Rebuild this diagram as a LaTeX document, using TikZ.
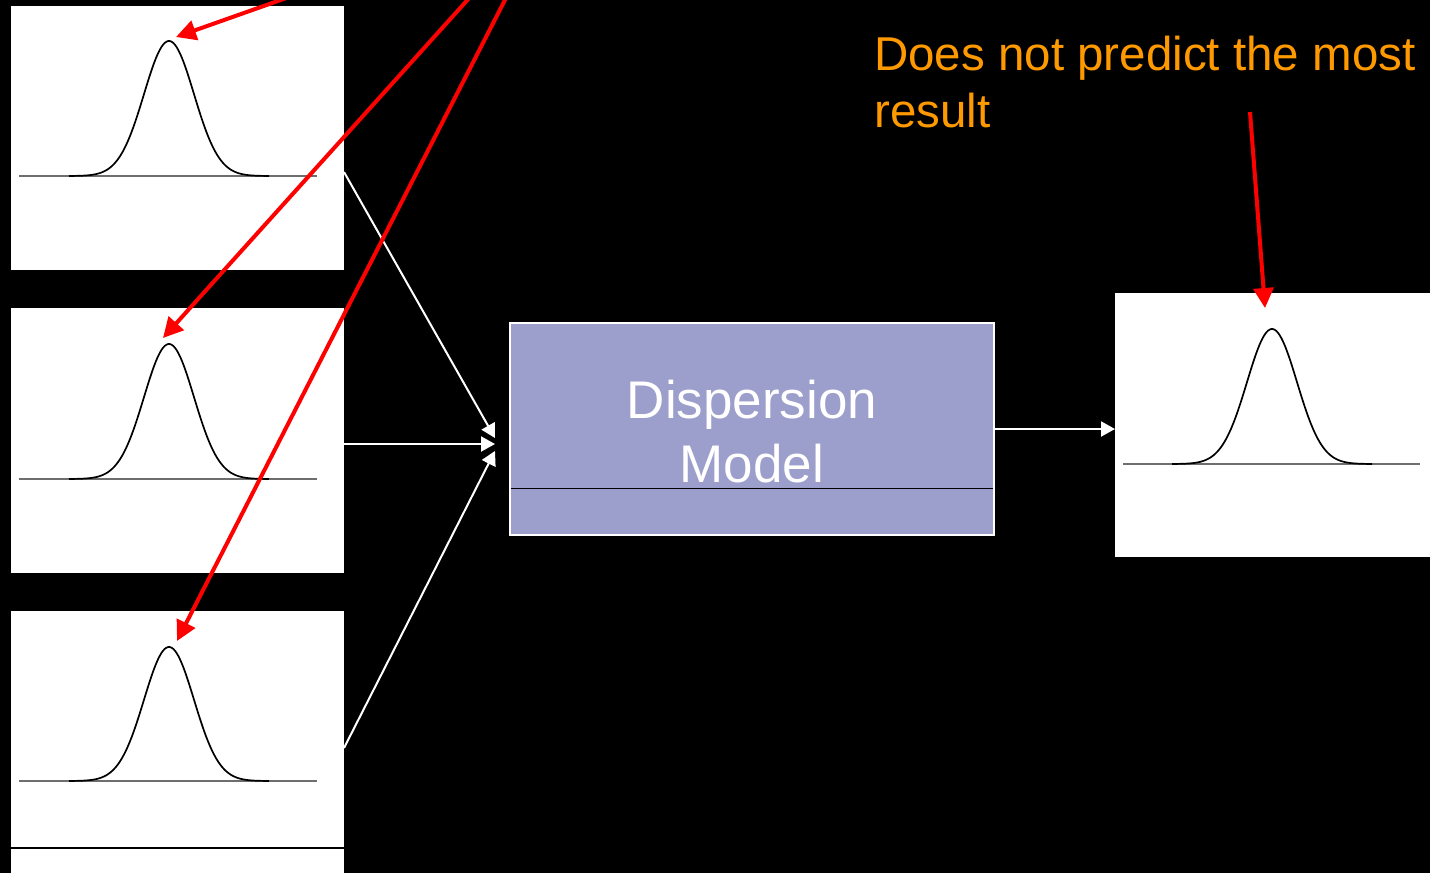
\documentclass[tikz,border=0pt]{standalone}
\usepackage{fontspec}
\setmainfont{Liberation Sans}
\usetikzlibrary{arrows.meta}
\definecolor{modelfill}{RGB}{156,158,203}
\definecolor{notecol}{RGB}{255,153,0}
\definecolor{axisgray}{RGB}{110,110,110}
\begin{document}
\begin{tikzpicture}[x=1pt,y=-1pt,
  panel/.style={fill=white,draw=none,inner sep=0pt,anchor=north west},
  flow/.style={draw=white,line width=2pt,-{Triangle[length=14pt,width=15pt]}},
  pointer/.style={draw=red,line width=4pt,-{Triangle[length=20pt,width=20pt]}},
  axisline/.style={draw=axisgray,line width=1.1pt},
  bell/.style={draw=black,line width=1.7pt,smooth}]
% background and frame
\fill[black] (0,0) rectangle (1430,873);
\useasboundingbox (0,0) rectangle (1430,873);

% input distribution panels
\node[panel,minimum width=333pt,minimum height=264pt] (p1) at (11,6) {};
\node[panel,minimum width=333pt,minimum height=265pt] (p2) at (11,308) {};
\node[panel,minimum width=333pt,minimum height=262pt] (p3) at (11,611) {};
% output distribution panel
\node[panel,minimum width=315pt,minimum height=264pt] (rp) at (1115,293) {};

% axes and bell curves
\draw[axisline] (19,176) -- (317,176);
\draw[bell] plot[domain=-100:100,samples=120] ({169+\x},{176-135*exp(-(\x*\x)/1250)});
\draw[axisline] (19,479) -- (317,479);
\draw[bell] plot[domain=-100:100,samples=120] ({169+\x},{479-135*exp(-(\x*\x)/1250)});
\draw[axisline] (19,781) -- (317,781);
\draw[bell] plot[domain=-100:100,samples=120] ({169+\x},{781-134*exp(-(\x*\x)/1250)});
\draw[draw=black,line width=1.2pt] (p3.south west |- 0,848) -- (p3.south east |- 0,848);
\draw[axisline] (1123,464) -- (1420,464);
\draw[bell] plot[domain=-100:100,samples=120] ({1272+\x},{464-135*exp(-(\x*\x)/1250)});

% model box
\node[fill=modelfill,draw=white,line width=2pt,minimum width=484pt,minimum height=212pt,inner sep=0pt] (model) at (752,429) {};
\draw[black,line width=1pt] (511,488) -- (993,488);
\node[text=white,font=\fontsize{53}{63}\selectfont,anchor=base] (t1) at (752,418) {Dispersion};
\node[text=white,font=\fontsize{53}{63}\selectfont,anchor=base] (t2) at (752,482) {Model};

% flow arrows into and out of the model
\coordinate (s1) at (344,172);
\coordinate (s2) at (344,444);
\coordinate (s3) at (344,748);
\coordinate (e1) at (495,438);
\coordinate (e2) at (495,444);
\coordinate (e3) at (495,451);
\draw[flow] (s1) -- (e1);
\draw[flow] (s2) -- (e2);
\draw[flow] (s3) -- (e3);
\draw[flow] (model.east) -- (model.east -| rp.west);

% annotation
\node[text=notecol,font=\fontsize{47.5}{57}\selectfont,anchor=base west,inner sep=0pt] (note1) at (874,70) {Does not predict the most};
\node[text=notecol,font=\fontsize{47.5}{57}\selectfont,anchor=base west,inner sep=0pt] (note2) at (874,127) {result};

% red pointers
\coordinate (r1) at (292,-4);
\coordinate (r2) at (471,-4);
\coordinate (r3) at (507,-4);
\coordinate (r4) at (1250,112);
\coordinate (k1) at (176,37);
\coordinate (k2) at (163,338);
\coordinate (k3) at (177,641);
\coordinate (k4) at (1265,308);
\draw[pointer] (r1) -- (k1);
\draw[pointer] (r2) -- (k2);
\draw[pointer] (r3) -- (k3);
\draw[pointer] (r4) -- (k4);
\end{tikzpicture}
\end{document}
